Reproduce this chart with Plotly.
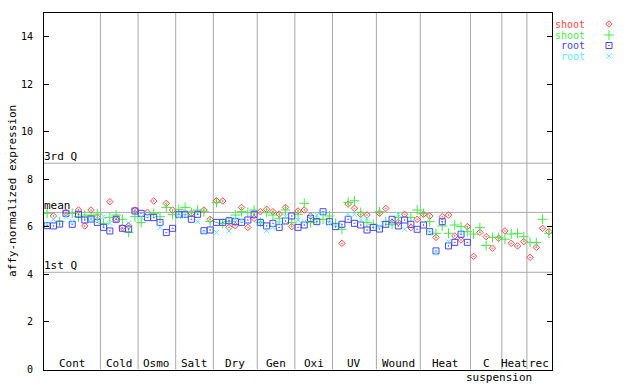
import plotly.graph_objects as go

# ---------------- data ----------------
groups = ["Cont", "Cold", "Osmo", "Salt", "Dry", "Gen", "Oxi", "UV", "Wound",
          "Heat", "C suspension", "Heat", "rec"]
group_sizes = [9, 6, 6, 6, 7, 6, 6, 7, 7, 8, 5, 4, 4]

shoot_red = [None, 6.46, None, 6.61, None, 6.71, 6.04, 6.71, 6.40,
             None, 7.06, 6.32, 5.97, 6.05, 6.71,
             None, 6.61, 7.09, None, 6.99, 6.71,
             None, None, 6.57, None, 6.71, 6.32,
             7.10, 7.09, 5.98, 6.05, 6.82, 5.98, 6.36,
             6.64, 6.74, 6.64, 6.54, 6.82, 6.01,
             6.67, 6.71, 6.46, None, None, None,
             None, 5.31, 6.96, 6.78, 6.53, 6.50, None,
             6.57, 6.78, 6.19, 6.19, 6.53, 5.97, 6.32,
             6.53, 6.46, 5.56, 6.43, 6.50, 5.62, 5.45, 6.01,
             4.76, 5.77, 5.59, 5.10, 5.52,
             5.83, 5.31, 5.20, 5.38,
             4.72, 5.14, 5.94, 5.80]
shoot_green = [6.57, None, 6.22, None, 6.57, 6.43, 6.50, 6.47, 6.54,
               6.15, 6.40, 6.50, 6.32, 5.77, 6.43,
               6.18, None, 6.57, 6.43, 6.82, 6.53,
               6.74, 6.82, 6.61, 6.71, 6.64, 6.22,
               7.03, 6.15, 6.22, 6.50, 6.64, 6.61, 6.71,
               6.19, 6.61, 6.50, 6.36, 6.71, 6.18,
               6.53, 6.99, 6.18, 6.32, 6.32, 6.46,
               6.15, 5.90, 7.03, 7.10, 6.61, 6.19, 6.11,
               6.64, 6.22, 6.11, 6.40, None, 6.40, 6.71,
               6.57, 6.22, 5.73, 6.04, 5.73, 6.08, 6.01, 5.80,
               5.70, 5.97, 5.22, 5.56, 5.56,
               5.48, 5.70, 5.73, 5.59,
               5.35, 5.34, 6.32, 5.73]
root_blue = [6.05, 6.04, 6.12, 6.57, 6.11, 6.53, 6.29, 6.33, 6.19,
             5.98, 5.83, 6.32, 5.94, 5.91, 6.67,
             6.57, 6.39, 6.39, 6.19, 5.76, 5.94,
             6.53, 6.53, 6.32, 6.53, 5.84, 5.87,
             6.19, 6.19, 6.26, 6.22, 6.19, 6.29, 6.53,
             6.19, 6.04, 6.15, 5.98, 6.25, 6.46,
             5.98, 6.08, 6.36, 6.22, 6.64, 6.22,
             6.01, 6.11, 6.32, 6.15, 6.08, 5.87, 5.98,
             5.91, 6.11, 6.32, 6.04, 6.29, 6.11, 5.90,
             6.08, 5.80, 4.99, 6.22, 5.20, 5.35, 5.69, 5.35,
             None, None, None, None, None,
             None, None, None, None,
             None, None, None, None]
root_cyan = [6.11, 6.32, None, 6.43, 6.22, None, None, 6.32, 6.29,
             6.43, 6.15, None, None, 6.15, None,
             6.40, 6.50, None, 5.97, None, None,
             6.43, 6.46, None, 6.22, 5.76, None,
             5.77, None, 5.83, 6.32, 6.29, None, None,
             6.19, 5.84, 5.98, 6.15, 6.43, None,
             6.29, 6.22, 6.46, 6.50, 6.57, 6.15,
             6.08, None, 6.53, 6.53, 6.29, 6.36, None,
             6.00, None, 6.15, 6.53, 5.90, None, None,
             None, 5.76, 4.89, None, 5.38, None, 5.76, None,
             None, None, None, None, None,
             None, None, None, None,
             None, None, None, None]

quartile_names = ["3rd Q", "mean", "1st Q"]
quartile_values = [8.68, 6.61, 4.09]
y_ticks = [0, 2, 4, 6, 8, 10, 12, 14]

series_names = ["shoot", "shoot", "root", "root"]
series_values = [shoot_red, shoot_green, root_blue, root_cyan]

# ---------------- style ----------------
W, H = 640, 384
PL, PR, PT, PB = 44, 552, 13, 369.5
FONT = "DejaVu Sans Mono"
colors = ["#ff4545", "#45e845", "#4545f5", "#55f0f0"]
symbols = ["diamond-open-dot", "cross-thin-open", "square-open-dot", "x-thin-open"]
sizes = [5, 7, 6, 5]
GRID = "#a8a8a8"

def px(x):
    return x / W

def py(y):
    return 1 - y / H

n = sum(group_sizes)
xs = list(range(1, n + 1))

fig = go.Figure()
for name, vals, c, s, sz in zip(series_names, series_values, colors, symbols, sizes):
    fig.add_trace(go.Scatter(
        x=xs, y=vals, mode="markers", name=name, showlegend=False,
        marker=dict(symbol=s, size=sz, color=c, line=dict(color=c, width=1)),
        xaxis="x", yaxis="y"))

annotations = []
# legend: text + marker on a full-figure helper axis
leg_y = [24, 35, 45.5, 56]
for i, (name, c, s, sz) in enumerate(zip(series_names, colors, symbols, sizes)):
    fig.add_trace(go.Scatter(
        x=[609], y=[leg_y[i]], mode="markers", showlegend=False,
        marker=dict(symbol=s, size=sz, color=c, line=dict(color=c, width=1)),
        xaxis="x2", yaxis="y2", hoverinfo="skip", cliponaxis=False))
    annotations.append(dict(x=px(587), y=py(leg_y[i]), xref="paper", yref="paper", text=name,
                            showarrow=False, xanchor="right", yanchor="middle",
                            font=dict(family=FONT, size=10, color=c)))

shapes = []
start = 0.5
for g, sz in zip(groups, group_sizes):
    end = start + sz
    if end < n + 0.5:
        shapes.append(dict(type="line", xref="x", yref="y", x0=end, x1=end, y0=0, y1=15,
                           line=dict(color=GRID, width=1), layer="below"))
    center = (start + end) / 2
    parts = g.split(" ")
    annotations.append(dict(x=center, y=0, xref="x", yref="y", text=parts[0],
                            showarrow=False, yanchor="bottom", yshift=-2,
                            font=dict(family=FONT, size=11, color="black")))
    if len(parts) > 1:
        annotations.append(dict(x=center, y=0, xref="x", yref="y", text=" ".join(parts[1:]),
                                showarrow=False, yanchor="top", yshift=1, xshift=13,
                                font=dict(family=FONT, size=11, color="black")))
    start = end

for qn, qv in zip(quartile_names, quartile_values):
    shapes.append(dict(type="line", xref="x", yref="y", x0=0.5, x1=n + 0.5, y0=qv, y1=qv,
                       line=dict(color=GRID, width=1), layer="below"))
    annotations.append(dict(x=0.5, y=qv, xref="x", yref="y", text=qn, showarrow=False,
                            xanchor="left", yanchor="bottom", xshift=-2, yshift=-2,
                            font=dict(family=FONT, size=11, color="black")))

annotations.append(dict(x=px(13), y=py(191), xref="paper", yref="paper",
                        text="affy-normalized expression", textangle=-90, showarrow=False,
                        xanchor="center", yanchor="middle",
                        font=dict(family=FONT, size=11, color="black")))

fig.update_layout(
    width=W, height=H, margin=dict(l=0, r=0, t=0, b=0, pad=0),
    paper_bgcolor="white", plot_bgcolor="rgba(0,0,0,0)", showlegend=False,
    xaxis=dict(domain=[px(PL), px(PR)], range=[0.5, n + 0.5], showline=True,
               linecolor="black", linewidth=1, mirror=True, showticklabels=False,
               ticks="", showgrid=False, zeroline=False, automargin=False, anchor="y"),
    yaxis=dict(domain=[py(PB), py(PT)], range=[0, 15], showline=True,
               linecolor="black", linewidth=1, mirror="ticks", tickvals=y_ticks,
               ticks="inside", ticklen=5, tickcolor="black", showgrid=False,
               zeroline=False, automargin=False, ticklabelstandoff=8, anchor="x",
               tickfont=dict(family=FONT, size=10, color="black")),
    xaxis2=dict(domain=[0, 1], range=[0, W], visible=False, anchor="y2",
                automargin=False),
    yaxis2=dict(domain=[0, 1], range=[H, 0], visible=False, anchor="x2",
                automargin=False),
    shapes=shapes, annotations=annotations,
)

fig.write_html("out.html", config={"displayModeBar": False},
               post_script="document.body.style.margin='0';document.body.style.overflow='hidden';")
